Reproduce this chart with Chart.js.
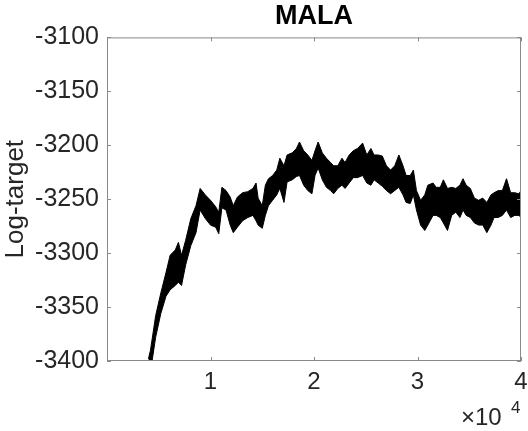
<!DOCTYPE html>
<html>
<head>
<meta charset="utf-8">
<script src="https://cdn.jsdelivr.net/npm/chart.js@4.4.1/dist/chart.umd.min.js"></script>
<style>
  html, body { margin: 0; padding: 0; background: #fff; }
  #wrap { width: 528px; height: 431px; position: relative; }
</style>
</head>
<body>
<div id="wrap"><canvas id="trace"></canvas></div>
<script>
// iteration index of each reading
const iters = [4000, 4200, 4700, 5200, 5700, 6100, 6600, 6900, 7200, 7600, 8100, 8600, 9000, 9500,
  10000, 10500, 10800, 11100, 11500, 11900, 12200, 12600, 13100, 13600, 14100, 14400, 14600,
  15000, 15300, 15600, 16000, 16400, 16700, 17100, 17400, 17900, 18300, 18600, 19000, 19400,
  19800, 20100, 20400, 20800, 21200, 21600, 21900, 22300, 22700, 23000, 23400, 23800, 24200,
  24700, 25100, 25500, 25800, 26200, 26600, 27000, 27400, 27800, 28200, 28600, 28900, 29300,
  29600, 29900, 30300, 30700, 31000, 31500, 31800, 32200, 32500, 32900, 33300, 33700, 34100,
  34400, 34700, 35100, 35500, 35900, 36300, 36700, 37100, 37400, 37800, 38200, 38600, 39000,
  39400, 39800, 40000];

// top edge of the sample cloud
const upperTrace = [-3398, -3390, -3358, -3337, -3318, -3302, -3297, -3290, -3302, -3288, -3268, -3256, -3240, -3246,
  -3251, -3257, -3262, -3239, -3242, -3248, -3256, -3248, -3244, -3243, -3240, -3235, -3249,
  -3256, -3237, -3231, -3228, -3223, -3212, -3219, -3209, -3207, -3203, -3197, -3205, -3209,
  -3214, -3205, -3197, -3207, -3212, -3216, -3219, -3219, -3212, -3216, -3209, -3205, -3203,
  -3198, -3209, -3203, -3209, -3209, -3210, -3219, -3223, -3219, -3209, -3219, -3228, -3228,
  -3223, -3242, -3251, -3246, -3237, -3235, -3239, -3239, -3232, -3240, -3239, -3240, -3237,
  -3231, -3237, -3240, -3249, -3251, -3249, -3253, -3246, -3244, -3242, -3242, -3231, -3244,
  -3244, -3245, -3242];

// bottom edge of the sample cloud
const lowerTrace = [-3410, -3410, -3378, -3356, -3340, -3334, -3330, -3327, -3330, -3311, -3293, -3281, -3260, -3268,
  -3274, -3276, -3282, -3258, -3260, -3274, -3281, -3276, -3270, -3267, -3265, -3270, -3274,
  -3277, -3265, -3256, -3251, -3246, -3240, -3253, -3234, -3232, -3229, -3228, -3237, -3242,
  -3245, -3228, -3221, -3232, -3239, -3242, -3245, -3240, -3237, -3240, -3235, -3230, -3230,
  -3228, -3235, -3237, -3232, -3235, -3238, -3242, -3245, -3242, -3239, -3246, -3253, -3254,
  -3246, -3260, -3274, -3279, -3274, -3265, -3265, -3267, -3272, -3279, -3265, -3262, -3267,
  -3260, -3265, -3267, -3272, -3274, -3274, -3281, -3274, -3267, -3267, -3265, -3260, -3267,
  -3265, -3265, -3267];

const yTicks = [-3400, -3350, -3300, -3250, -3200, -3150, -3100];
const xTicks = [10000, 20000, 30000, 40000];

const axisColor = '#262626';
const frameColor = '#8a8a8a';
const FONT = "'Liberation Sans', Arial, Helvetica, sans-serif";

// MATLAB style box with inward ticks on all four sides, plus the x10^4 multiplier
const boxPlugin = {
  id: 'matlabBox',
  afterDraw(chart) {
    const { ctx, chartArea: a, scales } = chart;
    ctx.save();
    ctx.strokeStyle = frameColor;
    ctx.lineWidth = 1;
    ctx.strokeRect(a.left + 0.5, a.top + 0.5, a.right - a.left - 1, a.bottom - a.top - 1);
    ctx.beginPath();
    const tl = 4;
    xTicks.forEach((v) => {
      const x = Math.round(scales.x.getPixelForValue(v)) + 0.5;
      ctx.moveTo(x, a.bottom); ctx.lineTo(x, a.bottom - tl);
      ctx.moveTo(x, a.top); ctx.lineTo(x, a.top + tl);
    });
    yTicks.forEach((v) => {
      const y = Math.round(scales.y.getPixelForValue(v)) + 0.5;
      ctx.moveTo(a.left, y); ctx.lineTo(a.left + tl, y);
      ctx.moveTo(a.right, y); ctx.lineTo(a.right - tl, y);
    });
    ctx.stroke();

    ctx.fillStyle = axisColor;
    ctx.textBaseline = 'alphabetic';
    ctx.textAlign = 'left';
    ctx.font = '24px ' + FONT;
    ctx.fillText('\u00d710', 461, 425);
    ctx.font = '17px ' + FONT;
    ctx.fillText('4', 511, 413);
    ctx.restore();
  }
};

new Chart(document.getElementById('trace'), {
  type: 'line',
  data: {
    datasets: [
      {
        label: 'upper',
        data: iters.map((x, i) => ({ x, y: upperTrace[i] })),
        borderColor: '#000',
        backgroundColor: '#000',
        borderWidth: 1,
        pointRadius: 0,
        tension: 0,
        fill: '+1'
      },
      {
        label: 'lower',
        data: iters.map((x, i) => ({ x, y: lowerTrace[i] })),
        borderColor: '#000',
        borderWidth: 1,
        pointRadius: 0,
        tension: 0,
        fill: false
      }
    ]
  },
  options: {
    responsive: true,
    maintainAspectRatio: false,
    animation: false,
    layout: { padding: { left: 0, right: 7, top: 0, bottom: 0 } },
    plugins: {
      legend: { display: false },
      tooltip: { enabled: false },
      title: {
        display: true,
        text: 'MALA',
        fullSize: false,
        color: '#000',
        font: { family: FONT, size: 27, weight: 'bold', lineHeight: 1.2 },
        padding: { top: 0, bottom: 5 }
      }
    },
    scales: {
      x: {
        type: 'linear',
        min: 0,
        max: 40000,
        afterFit(scale) {
          scale.height = 70;
          scale.paddingLeft = 0;
          scale.paddingRight = 0;
        },
        afterBuildTicks(scale) { scale.ticks = xTicks.map((v) => ({ value: v })); },
        grid: { display: false, drawTicks: false },
        border: { display: false },
        ticks: {
          color: axisColor,
          padding: 7,
          maxRotation: 0,
          autoSkip: false,
          font: { family: FONT, size: 24 },
          callback(value) { return String(value / 10000); }
        }
      },
      y: {
        min: -3400,
        max: -3100,
        afterFit(scale) { scale.width = 107; },
        afterBuildTicks(scale) { scale.ticks = yTicks.map((v) => ({ value: v })); },
        grid: { display: false, drawTicks: false },
        border: { display: false },
        title: {
          display: true,
          text: 'Log-target',
          color: axisColor,
          font: { family: FONT, size: 26 },
          padding: { top: 0, bottom: 0 }
        },
        ticks: {
          color: axisColor,
          padding: 8,
          autoSkip: false,
          font: { family: FONT, size: 25 },
          callback(value) { return String(value); }
        }
      }
    }
  },
  plugins: [boxPlugin]
});
</script>
</body>
</html>
